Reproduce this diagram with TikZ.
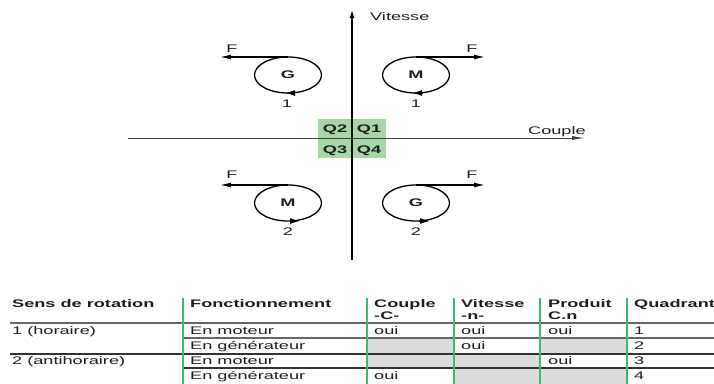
\documentclass[tikz,border=0pt]{standalone}
\usepackage{fontspec}
\setmainfont{Liberation Sans}[FakeStretch=1.65]
\usetikzlibrary{arrows.meta,shapes.geometric}
\definecolor{qgreen}{RGB}{166,215,167}
\definecolor{tgreen}{RGB}{60,188,110}
\definecolor{cellgrey}{RGB}{220,220,222}
\definecolor{txt}{RGB}{30,30,30}
\tikzset{
  lbl/.style={inner sep=0, anchor=base, text=txt, font=\fontsize{11}{13}\selectfont},
  qlbl/.style={inner sep=0, anchor=base, text=txt, font=\bfseries\fontsize{11}{13}\selectfont},
  machine/.style={ellipse, draw, line width=1.3pt, minimum width=67pt, minimum height=36pt,
    inner sep=0, outer sep=0, text=txt, font=\bfseries\fontsize{11}{13}\selectfont},
  farrow/.style={line width=1.2pt, -{Latex[length=11pt,width=5pt]}},
  rotarrow/.style={line width=1.3pt, -{Latex[length=10pt,width=6pt]}},
  axisV/.style={line width=1.2pt, -{Latex[length=8pt,width=5pt]}},
  axisH/.style={line width=1pt, draw=black!75, -{Latex[length=13pt,width=4pt]}},
  thead/.style={inner sep=0, anchor=base west, text=txt, font=\bfseries\fontsize{11}{13}\selectfont},
  tcell/.style={inner sep=0, anchor=base west, text=txt, font=\fontsize{11}{13}\selectfont},
  gline/.style={draw=tgreen, line width=1.5pt},
  hline/.style={draw=black!60, line width=1.1pt},
  hdark/.style={draw=black!80, line width=1.1pt}
}
\begin{document}
\begin{tikzpicture}[x=1pt,y=-1pt]
\useasboundingbox (0,0) rectangle (714,383);
\clip (0,0) rectangle (714,383);
\fill[white] (0,0) rectangle (714,383);

% quadrant highlight
\fill[qgreen] (318,119) rectangle (386,158);
\node[qlbl] (q2) at (335,132) {Q2};
\node[qlbl] (q1) at (369,132) {Q1};
\node[qlbl] (q3) at (335,153) {Q3};
\node[qlbl] (q4) at (369,153) {Q4};

% axes
\coordinate (vb) at (352,260);
\coordinate (vt) at (352,10);
\draw[axisV] (vb) -- (vt);
\node[lbl, anchor=base west] (vit) at (370,20) {Vitesse};
\coordinate (hl) at (128,138);
\coordinate (hr) at (585,138);
\draw[axisH] (hl) -- (hr);
\node[lbl, anchor=base west] (cpl) at (528,134) {Couple};

% machines
\node[machine] (m1) at (288,75) {G};
\node[machine] (m2) at (416,75) {M};
\node[machine] (m3) at (288,203) {M};
\node[machine] (m4) at (416,203) {G};

\coordinate (f1) at (220,57);
\coordinate (f2) at (485,57);
\coordinate (f3) at (220,185);
\coordinate (f4) at (485,185);
\draw[farrow] (m1.north) -- (f1);
\draw[farrow] (m2.north) -- (f2);
\draw[farrow] (m3.north) -- (f3);
\draw[farrow] (m4.north) -- (f4);
\node[lbl] (F1) at (232,52) {F};
\node[lbl] (F2) at (472,52) {F};
\node[lbl] (F3) at (232,178) {F};
\node[lbl] (F4) at (472,178) {F};

\draw[rotarrow] ([xshift=7pt]m1.south) -- ([xshift=-3pt]m1.south);
\draw[rotarrow] ([xshift=7pt]m2.south) -- ([xshift=-4pt]m2.south);
\draw[rotarrow] ([xshift=2pt]m3.south) -- ([xshift=12pt]m3.south);
\draw[rotarrow] ([xshift=3pt]m4.south) -- ([xshift=14pt]m4.south);
\node[lbl] (s1) at (287,107) {1};
\node[lbl] (s2) at (416,107) {1};
\node[lbl] (s3) at (288,235) {2};
\node[lbl] (s4) at (416,235) {2};

% table grey cells
\fill[cellgrey] (367,338) rectangle (454,354);
\fill[cellgrey] (540,338) rectangle (627,354);
\fill[cellgrey] (367,354) rectangle (540,368);
\fill[cellgrey] (454,368) rectangle (627,384);

% table rules
\draw[hline] (10,323) -- (714,323);
\draw[hline] (183,338) -- (714,338);
\draw[hdark] (10,354) -- (714,354);
\draw[hdark] (183,368) -- (714,368);
\foreach \cx in {183,367,454,540,627} {\draw[gline] (\cx,298) -- (\cx,384);}

% header
\node[thead] (h1) at (12,307) {Sens de rotation};
\node[thead] (h2) at (190,307) {Fonctionnement};
\node[thead] (h3a) at (374,307) {Couple};
\node[thead] (h3b) at (374,319) {-C-};
\node[thead] (h4a) at (461,307) {Vitesse};
\node[thead] (h4b) at (461,319) {-n-};
\node[thead] (h5a) at (548,307) {Produit};
\node[thead] (h5b) at (548,319) {C.n};
\node[thead] (h6) at (634,307) {Quadrant};

% rows
\node[tcell] (r1a) at (12,334) {1 (horaire)};
\node[tcell] (r3a) at (12,364) {2 (antihoraire)};
\node[tcell] (r1b) at (190,334) {En moteur};
\node[tcell] (r2b) at (190,349) {En générateur};
\node[tcell] (r3b) at (190,364) {En moteur};
\node[tcell] (r4b) at (190,379) {En générateur};
\node[tcell] (r1c) at (374,334) {oui};
\node[tcell] (r1d) at (461,334) {oui};
\node[tcell] (r1e) at (548,334) {oui};
\node[tcell] (r2d) at (461,349) {oui};
\node[tcell] (r3e) at (548,364) {oui};
\node[tcell] (r4c) at (374,379) {oui};
\node[tcell] (r1f) at (634,334) {1};
\node[tcell] (r2f) at (634,349) {2};
\node[tcell] (r3f) at (634,364) {3};
\node[tcell] (r4f) at (634,379) {4};
\end{tikzpicture}
\end{document}
